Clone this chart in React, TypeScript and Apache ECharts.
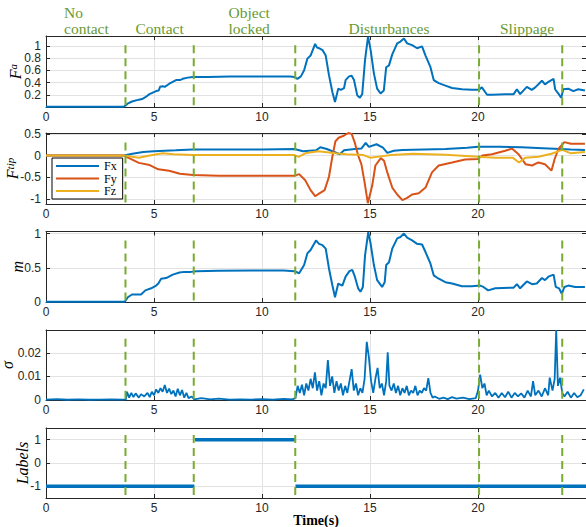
import React, { useEffect, useRef } from "react";
import * as echarts from "echarts";

// ---------- data ----------
const xTickLabels = ["0", "5", "10", "15", "20"];
const eventTimes = [3.68, 6.84, 11.54, 20.05, 23.9];
const phaseLabels = ["No\ncontact", "Contact", "Object\nlocked", "Disturbances", "Slippage"];
const legendNames = ["Fx", "Fy", "Fz"];

const faData: [number, number][] = [
  [0, 0.005], [3.6, 0.005], [3.7, 0.03], [3.8, 0.06], [3.98, 0.09], [4.3, 0.12], [4.45, 0.13], [4.6, 0.16],
  [4.79, 0.21], [5.1, 0.26], [5.22, 0.27], [5.28, 0.33], [5.4, 0.34], [5.5, 0.33], [5.71, 0.38], [6.02, 0.44],
  [6.2, 0.44], [6.33, 0.46], [6.56, 0.48], [6.8, 0.49], [7.5, 0.49], [8.5, 0.5], [9.5, 0.5], [10.5, 0.5],
  [11.3, 0.5], [11.5, 0.49], [11.64, 0.46], [11.8, 0.5], [11.95, 0.6], [12.1, 0.79], [12.25, 0.84], [12.46, 1.03],
  [12.55, 0.97], [12.64, 0.96], [12.8, 0.93], [12.95, 0.84], [13.1, 0.52], [13.26, 0.24], [13.38, 0.08],
  [13.53, 0.3], [13.65, 0.28], [13.8, 0.31], [13.87, 0.44], [14.03, 0.5], [14.15, 0.51], [14.26, 0.44],
  [14.41, 0.19], [14.53, 0.15], [14.64, 0.21], [14.77, 0.77], [14.91, 1.15], [15.03, 0.93], [15.18, 0.55],
  [15.33, 0.3], [15.49, 0.22], [15.64, 0.27], [15.75, 0.65], [15.88, 0.68], [16.03, 0.86], [16.26, 1.04],
  [16.41, 1.07], [16.57, 1.12], [16.72, 1.04], [16.95, 1.01], [17.18, 0.96], [17.41, 0.99], [17.57, 0.84],
  [17.8, 0.65], [17.95, 0.44], [18.18, 0.39], [18.49, 0.35], [18.8, 0.31], [19.26, 0.29], [19.72, 0.28],
  [20.03, 0.28], [20.18, 0.32], [20.42, 0.2], [20.65, 0.2], [21.26, 0.21], [21.65, 0.21], [21.8, 0.29],
  [21.95, 0.21], [22.26, 0.33], [22.49, 0.28], [22.65, 0.32], [22.96, 0.43], [23.1, 0.37], [23.26, 0.41],
  [23.5, 0.46], [23.57, 0.29], [23.72, 0.22], [23.85, 0.15], [23.95, 0.29], [24.18, 0.3], [24.41, 0.26],
  [24.64, 0.29], [24.95, 0.27],
];

const fxData: [number, number][] = [
  [0, 0], [3.6, 0], [4.0, 0.04], [4.5, 0.08], [5.0, 0.1], [5.5, 0.11], [6.0, 0.12], [6.8, 0.14], [8, 0.14],
  [10, 0.14], [11.5, 0.15], [11.9, 0.1], [12.5, 0.12], [12.7, 0.19], [13.0, 0.15], [13.6, 0.03], [13.8, 0.12],
  [14.3, 0.15], [14.6, 0.16], [14.8, 0.29], [14.95, 0.2], [15.3, 0.26], [15.6, 0.18], [15.8, 0.06], [16.1, 0.11],
  [16.5, 0.13], [17.5, 0.14], [18.5, 0.15], [19.5, 0.18], [20.0, 0.2], [21.0, 0.2], [22.0, 0.19], [23.0, 0.17],
  [23.8, 0.15], [24.3, 0.14], [24.95, 0.13],
];

const fyData: [number, number][] = [
  [0, 0], [3.6, 0], [3.8, -0.05], [4.3, -0.17], [4.8, -0.22], [5.2, -0.32], [5.7, -0.35], [6.2, -0.42],
  [6.8, -0.45], [8, -0.47], [10, -0.47], [11.5, -0.47], [11.72, -0.43], [12.0, -0.57], [12.25, -0.8],
  [12.46, -0.94], [12.64, -0.88], [12.9, -0.8], [13.1, -0.49], [13.26, -0.02], [13.4, 0.33], [13.55, 0.41],
  [13.75, 0.45], [14.0, 0.52], [14.15, 0.5], [14.3, 0.29], [14.45, 0], [14.6, -0.2], [14.75, -0.62],
  [14.9, -1.1], [15.1, -0.7], [15.25, -0.23], [15.5, -0.06], [15.65, -0.12], [15.8, -0.39], [16.03, -0.74],
  [16.26, -0.9], [16.5, -1.03], [16.72, -0.98], [16.95, -0.9], [17.26, -0.87], [17.57, -0.74], [17.87, -0.39],
  [18.18, -0.23], [18.8, -0.16], [19.4, -0.09], [20.0, -0.08], [20.2, 0], [20.65, 0.03], [21.26, 0.11],
  [21.57, 0.16], [21.88, 0.03], [22.2, -0.2], [22.5, -0.23], [22.8, -0.16], [23.1, -0.2], [23.4, -0.35],
  [23.55, -0.08], [23.72, 0.15], [24.0, 0.31], [24.3, 0.27], [24.95, 0.27],
];

const fzData: [number, number][] = [
  [0, 0], [3.6, 0], [4.3, -0.05], [4.8, 0], [5.4, 0.05], [5.9, 0.03], [6.8, 0.01], [11.5, 0.01], [11.7, -0.03],
  [12.0, 0.05], [12.6, 0.1], [13.4, 0.05], [13.9, 0.03], [14.7, 0.01], [15.0, -0.05], [15.5, -0.02], [16.0, 0.01],
  [17.0, 0.04], [18.5, 0.02], [20.0, -0.03], [20.8, -0.05], [21.6, -0.05], [21.9, -0.16], [22.2, -0.05],
  [22.8, -0.03], [23.4, 0.04], [23.9, 0.13], [24.3, 0.05], [24.95, 0.08],
];

const mData: [number, number][] = [
  [0, 0.005], [3.65, 0.005], [3.79, 0.07], [3.98, 0.11], [4.4, 0.11], [4.6, 0.17], [4.87, 0.2], [5.1, 0.24],
  [5.2, 0.27], [5.33, 0.34], [5.56, 0.35], [5.87, 0.4], [6.18, 0.43], [6.4, 0.44], [6.71, 0.44], [6.95, 0.45],
  [8, 0.455], [9.5, 0.46], [11, 0.46], [11.5, 0.45], [11.72, 0.42], [11.95, 0.54], [12.1, 0.71], [12.25, 0.76],
  [12.5, 0.9], [12.64, 0.85], [12.8, 0.83], [12.95, 0.78], [13.1, 0.49], [13.26, 0.24], [13.38, 0.07],
  [13.53, 0.27], [13.72, 0.24], [13.87, 0.37], [14.05, 0.45], [14.18, 0.47], [14.3, 0.37], [14.45, 0.2],
  [14.56, 0.15], [14.67, 0.22], [14.77, 0.68], [14.92, 1.02], [15.03, 0.85], [15.18, 0.54], [15.33, 0.32],
  [15.56, 0.22], [15.68, 0.29], [15.75, 0.54], [15.88, 0.58], [16.03, 0.78], [16.26, 0.93], [16.41, 0.95],
  [16.57, 1.0], [16.72, 0.94], [16.95, 0.9], [17.18, 0.85], [17.41, 0.84], [17.57, 0.73], [17.8, 0.56],
  [17.95, 0.39], [18.18, 0.34], [18.49, 0.29], [18.8, 0.27], [19.26, 0.23], [19.72, 0.23], [20.1, 0.24],
  [20.25, 0.22], [20.47, 0.17], [20.8, 0.2], [21.65, 0.21], [21.8, 0.26], [21.95, 0.2], [22.26, 0.3],
  [22.5, 0.26], [22.72, 0.27], [22.96, 0.35], [23.1, 0.32], [23.26, 0.37], [23.5, 0.4], [23.6, 0.22],
  [23.75, 0.2], [23.88, 0.12], [24.0, 0.22], [24.18, 0.24], [24.5, 0.22], [24.95, 0.22],
];

const sigmaData: [number, number][] = [
  [0, 0.0002], [0.5, 0.0004], [1, 0.0001], [1.5, 0.0003], [2, 0.0001], [2.5, 0.0002], [3, 0.0003], [3.5, 0.0002],
  [3.7, 0.0003], [3.75, 0.0035], [3.85, 0.001], [3.95, 0.003], [4.05, 0.0012], [4.15, 0.0028], [4.3, 0.001],
  [4.4, 0.0025], [4.55, 0.0015], [4.7, 0.003], [4.8, 0.0012], [4.9, 0.0035], [5.0, 0.002], [5.1, 0.0045],
  [5.2, 0.003], [5.3, 0.005], [5.4, 0.0035], [5.5, 0.0064], [5.6, 0.003], [5.7, 0.0048], [5.8, 0.0025],
  [5.9, 0.004], [6.0, 0.0015], [6.1, 0.0048], [6.2, 0.002], [6.3, 0.0042], [6.4, 0.001], [6.5, 0.003],
  [6.6, 0.0008], [6.75, 0.0015], [6.85, 0.0003], [7.2, 0.0008], [7.6, 0.0003], [8, 0.0006], [8.5, 0.0002],
  [9, 0.0003], [9.5, 0.0002], [10, 0.0004], [10.5, 0.0002], [11, 0.0005], [11.4, 0.0003], [11.55, 0.0008],
  [11.65, 0.006], [11.75, 0.003], [11.85, 0.0065], [11.95, 0.002], [12.05, 0.007], [12.15, 0.004],
  [12.25, 0.009], [12.35, 0.005], [12.45, 0.0117], [12.55, 0.004], [12.65, 0.008], [12.75, 0.002],
  [12.85, 0.007], [12.95, 0.005], [13.05, 0.0169], [13.15, 0.006], [13.25, 0.01], [13.35, 0.003],
  [13.45, 0.008], [13.55, 0.004], [13.65, 0.007], [13.75, 0.002], [13.85, 0.006], [13.95, 0.003],
  [14.05, 0.008], [14.15, 0.0131], [14.25, 0.004], [14.35, 0.007], [14.45, 0.002], [14.55, 0.005],
  [14.65, 0.003], [14.75, 0.009], [14.85, 0.0247], [14.95, 0.018], [15.05, 0.008], [15.15, 0.003],
  [15.25, 0.009], [15.35, 0.0136], [15.45, 0.005], [15.55, 0.007], [15.65, 0.002], [15.75, 0.008],
  [15.82, 0.0202], [15.9, 0.006], [16.0, 0.004], [16.1, 0.007], [16.2, 0.003], [16.3, 0.006], [16.4, 0.002],
  [16.5, 0.005], [16.6, 0.003], [16.7, 0.006], [16.8, 0.002], [16.9, 0.004], [17.0, 0.003], [17.1, 0.006],
  [17.2, 0.002], [17.3, 0.004], [17.4, 0.003], [17.5, 0.005], [17.6, 0.004], [17.7, 0.0093], [17.8, 0.003],
  [17.9, 0.001], [18.0, 0.0015], [18.2, 0.0005], [18.4, 0.001], [18.6, 0.0004], [18.8, 0.0012], [19.0, 0.0006],
  [19.3, 0.001], [19.6, 0.0004], [19.9, 0.0008], [20.0, 0.004], [20.1, 0.0108], [20.2, 0.005], [20.3, 0.007],
  [20.4, 0.002], [20.5, 0.004], [20.65, 0.0015], [20.8, 0.003], [20.95, 0.001], [21.1, 0.003], [21.25, 0.0012],
  [21.4, 0.0035], [21.55, 0.001], [21.7, 0.003], [21.85, 0.0015], [22.0, 0.0028], [22.15, 0.001], [22.3, 0.004],
  [22.45, 0.0015], [22.55, 0.008], [22.65, 0.002], [22.8, 0.004], [22.95, 0.0015], [23.1, 0.005], [23.25, 0.002],
  [23.32, 0.0095], [23.45, 0.004], [23.55, 0.009], [23.62, 0.0297], [23.7, 0.006], [23.8, 0.0095], [23.9, 0.003],
  [24.0, 0.0015], [24.15, 0.0035], [24.3, 0.001], [24.45, 0.003], [24.6, 0.0012], [24.75, 0.002], [24.9, 0.0045],
];

const labelData: [number, number | null][] = [
  [0, -1], [6.87, -1], [6.88, null], [6.9, 1], [11.52, 1], [11.53, null], [11.55, -1], [25, -1],
];

// y-axis ranges and tick labels per panel
const yMins = [0, -1.12, 0, 0, -1.5];
const yMaxs = [1.16, 0.52, 1.03, 0.0297, 1.5];
const yTickLabels = [
  ["0.2", "0.4", "0.6", "0.8", "1"],
  ["-1", "-0.5", "0", "0.5"],
  ["0", "0.5", "1"],
  ["0", "0.01", "0.02"],
  ["-1", "0", "1"],
];
// extent of the green dashed event lines in each panel (data units)
const eventLo = [0, -1.1, 0, 0, -1.5];
const eventHi = [1.01, 0.3, 0.9, 0.026, 1.2];

// ---------- layout / style ----------
const gridTops = [36, 133, 231.5, 330, 428];
const gridHeights = [71, 71, 70.5, 70, 70];
const yNameGaps = [15, 18, 21, 31, 16];
const phasePos = [[64, 4.5], [135.5, 20], [228.5, 4.5], [348.5, 20], [500, 20]];
const BLUE = "#0072BD";
const ORANGE = "#D95319";
const YELLOW = "#EDB120";
const GREEN = "#77AC30";
const AX = "#262626";

const fmt = (list: string[]) => (v: number) => {
  const s = String(Number(v.toFixed(5)));
  return list.includes(s) ? s : "";
};

const richTitle = {
  i: { fontFamily: "Liberation Serif", fontStyle: "italic", fontSize: 16, color: "#000", lineHeight: 16, verticalAlign: "top" },
  s: { fontFamily: "Liberation Serif", fontStyle: "italic", fontSize: 11, color: "#000", lineHeight: 24, verticalAlign: "top" },
};
const yNames = ["{i|F}{s|a}", "{i|F}{s|tip}", "{i|m}", "{i|σ}", "{i|Labels}"];

export default function App() {
  const ref = useRef<HTMLDivElement>(null);
  useEffect(() => {
    if (!ref.current) return;
    const chart = echarts.init(ref.current, undefined, { renderer: "svg" });

    const grids: any[] = [];
    const xAxes: any[] = [];
    const yAxes: any[] = [];
    const series: any[] = [];

    for (let i = 0; i < 5; i++) {
      grids.push({ left: 46, right: 0, top: gridTops[i], height: gridHeights[i], containLabel: false, outerBoundsMode: "none" });
      const baseX = {
        type: "value",
        gridIndex: i,
        min: 0,
        max: 25,
        interval: 5,
        axisLine: { show: true, onZero: false, lineStyle: { color: AX, width: 1 } },
        axisTick: { show: true, inside: true, length: 4, lineStyle: { color: AX } },
      };
      xAxes.push({
        ...baseX,
        position: "bottom",
        name: i === 4 ? "Time(s)" : "",
        nameLocation: "middle",
        nameGap: 15,
        nameMoveOverlap: false,
        nameTextStyle: { fontFamily: "Liberation Serif", fontWeight: "bold", fontSize: 14, color: "#000", verticalAlign: "top" },
        axisLabel: { margin: 4, fontSize: 12, color: AX, fontFamily: "Liberation Sans", formatter: fmt(xTickLabels) },
        splitLine: { show: true, lineStyle: { color: "#e2e2e2", width: 1 } },
      });
      xAxes.push({ ...baseX, position: "top", axisLabel: { show: false }, splitLine: { show: false } });

      const tickCfg: any = i === 1 || i === 4 ? { splitNumber: 3 } : { interval: [0.2, 0, 0.5, 0.01, 0][i] };
      const baseY = {
        type: "value",
        gridIndex: i,
        min: yMins[i],
        max: yMaxs[i],
        ...tickCfg,
        axisLine: { show: true, onZero: false, lineStyle: { color: AX, width: 1 } },
        axisTick: { show: true, inside: true, length: 4, lineStyle: { color: AX } },
      };
      yAxes.push({
        ...baseY,
        position: "left",
        name: yNames[i],
        nameLocation: "middle",
        nameRotate: 90,
        nameGap: yNameGaps[i],
        nameMoveOverlap: false,
        nameTextStyle: { rich: richTitle },
        axisLabel: { margin: 5, fontSize: 12, color: AX, fontFamily: "Liberation Sans", formatter: fmt(yTickLabels[i]) },
        splitLine: { show: true, lineStyle: { color: "#e2e2e2", width: 1 } },
      });
      yAxes.push({ ...baseY, position: "right", name: "", axisLabel: { show: false }, splitLine: { show: false } });
    }

    const line = (name: string, data: any[], idx: number, color: string, width = 2) => ({
      type: "line",
      name,
      data,
      xAxisIndex: idx * 2,
      yAxisIndex: idx * 2,
      symbol: "none",
      showSymbol: false,
      lineStyle: { color, width },
      itemStyle: { color },
      z: 3,
    });

    series.push(line("Fa", faData, 0, BLUE));
    series.push(line("Fx", fxData, 1, BLUE));
    series.push(line("Fy", fyData, 1, ORANGE));
    series.push(line("Fz", fzData, 1, YELLOW));
    series.push(line("m", mData, 2, BLUE));
    series.push(line("sigma", sigmaData, 3, BLUE, 1.8));
    series.push(line("labels", labelData, 4, BLUE, 3.5));

    for (let i = 0; i < 5; i++) {
      const d: any[] = [];
      eventTimes.forEach((t) => {
        d.push([t, eventHi[i]], [t, eventLo[i]], [t, null]);
      });
      series.push({
        type: "line",
        name: "events" + i,
        data: d,
        xAxisIndex: i * 2,
        yAxisIndex: i * 2,
        symbol: "none",
        lineStyle: { color: GREEN, width: 2, type: [8, 5] },
        z: 5,
      });
    }

    const graphic = phaseLabels.map((txt, k) => ({
      type: "text",
      x: phasePos[k][0],
      y: phasePos[k][1],
      style: {
        text: txt,
        fill: "#679A34",
        font: "15.5px 'Liberation Serif'",
        lineHeight: 16,
        verticalAlign: "top",
        align: "left",
      },
    }));

    chart.setOption({
      animation: false,
      backgroundColor: "#ffffff",
      grid: grids,
      xAxis: xAxes,
      yAxis: yAxes,
      series,
      graphic,
      legend: {
        data: legendNames,
        orient: "vertical",
        left: 52,
        top: 158,
        itemWidth: 43,
        itemHeight: 14,
        itemGap: 0.5,
        icon: "path://M0,0 L43,0 L43,2 L0,2 Z",
        padding: [2, 6, 2, 4],
        backgroundColor: "#ffffff",
        borderColor: "#000000",
        borderWidth: 1,
        borderRadius: 0,
        textStyle: { fontFamily: "Liberation Serif", fontSize: 12, color: "#000" },
        z: 10,
      },
    });
    return () => chart.dispose();
  }, []);
  return <div ref={ref} style={{ position: "absolute", left: 0, top: 0, width: 586, height: 527 }} />;
}
